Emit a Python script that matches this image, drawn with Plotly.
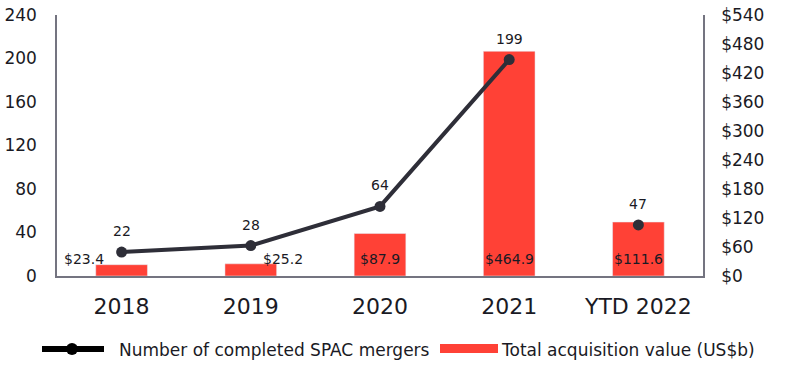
import plotly.graph_objects as go

categories = ["2018", "2019", "2020", "2021", "YTD 2022"]
mergers = [22, 28, 64, 199, 47]
values = [23.4, 25.2, 87.9, 464.9, 111.6]
value_labels = ["$23.4", "$25.2", "$87.9", "$464.9", "$111.6"]
value_label_xshift = [-38, 32, 0, 0, 0]
left_ticks = [0, 40, 80, 120, 160, 200, 240]
right_ticks = [0, 60, 120, 180, 240, 300, 360, 420, 480, 540]
right_tick_labels = ["$" + str(v) for v in right_ticks]

FONT = "DejaVu Sans"
TXT = "#1a1a24"
AX = "#747480"
RED = "#ff4136"
LINE = "#2e2e38"

W, H = 794, 373
L, R, T, B = 57, W - 703, 15, H - 276

fig = go.Figure()
fig.add_trace(go.Bar(
    x=categories, y=values, marker_color=RED, width=0.4,
    yaxis="y", showlegend=False, hoverinfo="skip",
))
# line connects full years; YTD 2022 shown as a standalone point
fig.add_trace(go.Scatter(
    x=categories[:4], y=mergers[:4], mode="lines+markers", yaxis="y2",
    line=dict(color=LINE, width=4), marker=dict(size=11, color=LINE),
    showlegend=False,
))
fig.add_trace(go.Scatter(
    x=categories[4:], y=mergers[4:], mode="markers", yaxis="y2",
    marker=dict(size=11, color=LINE), showlegend=False,
))

ann = []
for i, (lab, xs) in enumerate(zip(value_labels, value_label_xshift)):
    ann.append(dict(x=i, y=0, xref="x", yref="y", text=lab, showarrow=False,
                    yanchor="bottom", yshift=7, xshift=xs,
                    font=dict(family=FONT, size=14, color=TXT)))
for i, m in enumerate(mergers):
    ann.append(dict(x=i, y=m, xref="x", yref="y2", text=str(m), showarrow=False,
                    yanchor="middle", yshift=21,
                    font=dict(family=FONT, size=14, color=TXT)))

pw = W - L - R
ph = H - T - B
def px_x(x):
    return (x - L) / pw
def px_y(y):
    return (H - B - y) / ph

ann.append(dict(x=px_x(117), y=px_y(350), xref="paper", yref="paper",
                text="Number of completed SPAC mergers",
                showarrow=False, xanchor="left", yanchor="middle",
                font=dict(family=FONT, size=17, color=TXT)))
ann.append(dict(x=px_x(499), y=px_y(350), xref="paper", yref="paper",
                text="Total acquisition value (US$b)",
                showarrow=False, xanchor="left", yanchor="middle",
                font=dict(family=FONT, size=17, color=TXT)))

fig.update_layout(
    width=W, height=H,
    margin=dict(l=L, r=R, t=T, b=B),
    paper_bgcolor="white", plot_bgcolor="white",
    font=dict(family=FONT, color=TXT),
    xaxis=dict(
        type="category", categoryorder="array", categoryarray=categories,
        range=[-0.5, 4.5], showline=True, linecolor=AX, linewidth=1.5,
        ticks="", showgrid=False, tickfont=dict(size=22, color=TXT),
        ticklabelstandoff=10, zeroline=False, automargin=False,
    ),
    yaxis=dict(
        side="right", range=[0, 540], tickvals=right_ticks, ticktext=right_tick_labels,
        showline=True, linecolor=AX, linewidth=1.5, showgrid=False, zeroline=False,
        ticks="", tickfont=dict(size=17, color=TXT), ticklabelstandoff=13,
        automargin=False, ticklabeloverflow="allow",
    ),
    yaxis2=dict(
        side="left", overlaying="y", range=[0, 240], tickvals=left_ticks,
        showline=True, linecolor=AX, linewidth=1.5, showgrid=False, zeroline=False,
        ticks="", tickfont=dict(size=17, color=TXT), ticklabelstandoff=15,
        automargin=False, ticklabeloverflow="allow",
    ),
    annotations=ann,
)

fig.add_shape(type="line", xref="paper", yref="paper",
              x0=px_x(42), x1=px_x(104), y0=px_y(349), y1=px_y(349),
              line=dict(color="black", width=6))
fig.add_shape(type="circle", xref="paper", yref="paper",
              x0=px_x(66), x1=px_x(78), y0=px_y(355), y1=px_y(343),
              fillcolor="black", line=dict(width=0))
fig.add_shape(type="rect", xref="paper", yref="paper",
              x0=px_x(440), x1=px_x(498), y0=px_y(353), y1=px_y(344),
              fillcolor=RED, line=dict(width=0))

fig.write_html("out.html",
               config={"displayModeBar": False},
               post_script="document.body.style.margin='0';document.body.style.overflow='hidden';")
